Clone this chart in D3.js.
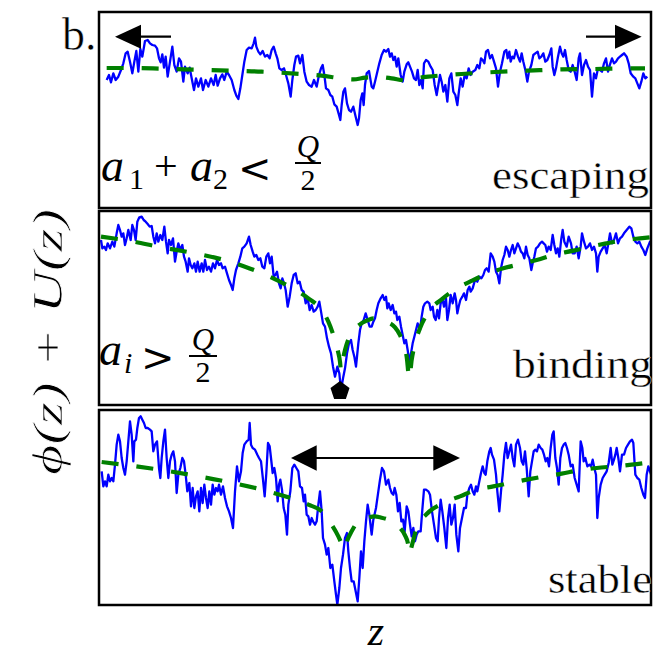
<!DOCTYPE html>
<html>
<head>
<meta charset="utf-8">
<script src="https://cdn.jsdelivr.net/npm/d3@7"></script>
<style>
body { margin: 0; background: #fff; }
</style>
</head>
<body>
<script>
// z runs along the polymer (arbitrary units), depth is the potential drawn downward

var escapingNoisy = [[35,165],[42,150],[48,172],[55,145],[62,165],[70,155],[78,135],[85,115],[92,85],[98,80],[105,110],[112,145],[118,110],[124,78],[130,140],[136,72],[142,95],[150,48],[158,45],[165,55],[172,60],[180,62],[186,70],[192,100],[197,112],[202,88],[207,128],[212,95],[218,155],[225,110],[232,65],[238,120],[245,140],[252,100],[258,110],[265,170],[270,125],[278,145],[284,128],[290,160],[297,195],[303,160],[310,185],[318,160],[324,195],[332,165],[340,185],[348,160],[356,180],[362,150],[368,182],[375,160],[382,148],[388,165],[395,140],[402,150],[410,165],[418,195],[424,212],[430,222],[436,190],[442,150],[448,110],[455,75],[462,68],[470,70],[476,55],[480,38],[484,65],[490,80],[496,88],[503,78],[510,95],[517,90],[524,100],[530,75],[536,65],[542,85],[547,100],[553,130],[560,135],[567,130],[573,150],[580,175],[587,215],[592,165],[598,120],[603,95],[610,92],[615,115],[622,90],[628,140],[635,170],[642,180],[650,185],[657,165],[665,185],[672,150],[678,130],[683,120],[688,150],[693,190],[700,195],[706,210],[712,215],[718,238],[725,245],[732,270],[736,285],[740,240],[745,200],[750,190],[756,235],[762,255],[768,260],[775,245],[782,275],[788,300],[792,280],[797,225],[802,205],[806,240],[810,180],[815,145],[822,138],
  [830,185],[835,190],[840,170],[847,140],[853,115],[860,90],[867,75],[873,80],[880,72],[885,95],[890,85],[895,105],[900,95],[905,125],[910,100],[917,150],[923,170],[928,140],[935,118],[940,112],[945,125],[951,140],[957,160],[963,165],[968,135],[973,180],[978,165],[983,190],[987,115],[993,105],[1000,110],[1007,125],[1013,135],[1019,180],[1025,210],[1030,180],[1035,150],[1040,170],[1045,200],[1051,180],[1057,230],[1063,160],[1069,145],[1075,200],[1081,210],[1087,240],[1091,205],[1097,160],[1103,185],[1109,150],[1115,160],[1121,130],[1127,150],[1133,140],[1141,135],[1147,120],[1153,130],[1158,100],[1163,105],[1168,115],[1173,80],[1179,75],[1185,100],[1191,90],[1197,110],[1203,130],[1209,185],[1215,140],[1221,115],[1228,80],[1234,75],[1238,100],[1243,80],[1247,110],[1252,95],[1257,100],[1263,75],[1269,95],[1275,110],[1280,85],[1285,110],[1291,135],[1297,170],[1302,140],[1309,120],[1315,90],[1321,85],[1328,80],[1333,100],[1339,95],[1345,85],[1351,110],[1357,105],[1363,90],[1369,70],[1373,125],[1378,150],[1383,130],[1389,95],[1395,65],[1400,85],[1405,95],[1410,75],[1415,105],[1421,135],[1427,140],[1433,120],[1439,140],[1445,165],[1451,100],[1455,85],[1461,150],[1467,120],[1473,105],[1479,125],[1485,135],[1491,215],[1497,145],[1503,160],[1509,130],[1515,135],[1521,140],[1527,115],[1533,100],[1539,140],[1545,118],[1551,100],[1557,115],[1563,110],[1569,100],[1575,95],[1581,90],[1587,85],[1595,95],[1601,115],[1607,145],[1615,155],[1621,160],[1627,175],[1633,190],[1639,170],[1645,145],[1651,160],[1657,155]];

var escapingMean = [[35,129],[100,129],[200,131],[300,134],[400,137],[500,140],[600,146],[680,152],[740,160],[775,163],[810,158],[850,156],[890,160],[930,166],[960,160],[1000,155],[1100,147],[1200,141],[1300,137],[1400,133],[1500,132],[1600,130],[1650,130]];

var bindingNoisy = [[18,90],[22,115],[28,110],[33,120],[38,100],[45,115],[52,95],[58,110],[65,70],[70,45],[75,60],[80,80],[85,70],[90,105],[95,85],[100,60],[107,90],[112,45],[117,60],[122,90],[127,35],[133,22],[140,20],[146,30],[152,35],[158,42],[164,50],[170,48],[175,80],[180,100],[185,70],[190,95],[196,75],[202,90],[208,50],[213,95],[218,130],[222,90],[228,105],[234,85],[240,155],[245,125],[250,100],[256,120],[262,105],[267,140],[272,155],[278,185],[282,145],[287,165],[292,175],[298,160],[303,185],[308,155],[314,185],[320,160],[325,185],[330,150],[336,180],[342,170],[348,185],[354,160],[360,175],[366,150],[372,165],[378,160],[383,175],[390,170],[396,190],[402,210],[408,225],[413,240],[418,205],[423,180],[430,160],[436,140],[442,115],[448,110],[455,100],[462,80],[467,105],[473,125],[478,140],[484,135],[490,150],[496,145],[502,170],[508,175],[514,140],[520,130],[525,160],[530,140],[536,200],[541,195],[546,185],[552,220],[557,235],[562,205],[567,220],[572,240],[578,290],[584,260],[590,220],[596,195],[602,190],[608,220],[614,215],[620,240],[626,245],[632,280],[638,265],[644,300],[650,285],[656,305],[662,300],[668,290],[673,275],[679,310],[684,340],[690,350],[696,385],[702,410],[708,430],[714,470],[720,500],[727,470],[733,490],[738,540],[745,500],[750,475],[756,430],[762,400],[768,390],[773,420],[778,440],[783,470],[790,400],[795,360],[800,340],[806,330],[812,310],[818,330],[824,350],
  [830,350],[835,335],[840,325],[845,300],[850,280],[857,265],[863,255],[868,270],[873,260],[877,295],[881,280],[887,300],[893,285],[898,310],[903,305],[907,330],[913,320],[918,350],[923,375],[928,400],[933,390],[938,420],[943,455],[948,430],[953,400],[958,380],[963,360],[968,340],[975,360],[980,320],[985,290],[990,280],[997,275],[1003,280],[1007,300],[1013,290],[1017,320],[1022,330],[1027,300],[1032,325],[1037,280],[1043,270],[1047,290],[1053,265],[1057,330],[1062,300],[1067,255],[1073,280],[1079,250],[1083,270],[1087,310],[1091,290],[1096,270],[1102,260],[1107,250],[1113,270],[1118,240],[1123,230],[1127,245],[1133,235],[1140,210],[1147,215],[1153,200],[1159,205],[1165,195],[1170,180],[1175,175],[1181,185],[1187,130],[1193,140],[1198,155],[1203,185],[1208,195],[1213,220],[1218,175],[1223,150],[1228,135],[1233,110],[1238,120],[1243,140],[1248,120],[1253,105],[1258,130],[1263,115],[1268,100],[1273,110],[1278,125],[1283,130],[1288,145],[1293,110],[1298,135],[1303,145],[1309,180],[1313,160],[1318,140],[1323,115],[1329,110],[1335,100],[1341,95],[1346,100],[1351,105],[1356,125],[1361,110],[1367,120],[1373,75],[1378,105],[1383,130],[1388,115],[1393,140],[1399,85],[1403,60],[1408,95],[1415,110],[1421,80],[1428,100],[1433,130],[1439,130],[1445,110],[1451,145],[1457,110],[1461,70],[1467,95],[1473,115],[1479,110],[1485,100],[1491,120],[1497,110],[1503,130],[1507,185],[1511,140],[1517,125],[1523,115],[1529,105],[1535,130],[1541,95],[1545,70],[1551,100],[1557,90],[1563,70],[1569,100],[1575,85],[1581,80],[1587,70],[1595,60],[1603,50],[1609,55],[1615,80],[1621,95],[1627,100],[1633,95],[1639,110],[1645,120],[1651,135],[1657,115],[1665,95],[1670,100]];

var bindingMean = [[18,80],[100,92],[200,112],[300,130],[380,148],[450,170],[520,198],[580,228],[640,265],[680,300],[700,335],[715,375],[728,420],[735,455],[738,482],[742,458],[750,420],[760,388],[775,362],[795,343],[815,332],[835,325],[855,326],[875,335],[900,352],[915,375],[925,400],[935,440],[943,505],[950,450],[960,400],[975,355],[1005,300],[1040,268],[1085,235],[1125,215],[1180,190],[1225,175],[1285,160],[1325,150],[1385,132],[1435,122],[1485,110],[1535,100],[1590,90],[1635,85],[1665,82]];

var stableNoisy = [[20,190],[25,235],[30,220],[35,235],[40,200],[45,220],[50,210],[55,220],[60,170],[65,110],[70,80],[75,100],[80,150],[85,180],[90,200],[95,160],[100,100],[105,40],[110,80],[115,160],[118,100],[123,95],[127,60],[132,30],[137,25],[142,35],[147,45],[152,60],[158,60],[165,65],[170,70],[175,130],[180,110],[186,100],[192,180],[196,210],[200,150],[205,100],[210,65],[215,150],[220,210],[225,160],[230,140],[235,130],[240,160],[245,255],[250,200],[256,180],[262,150],[267,160],[272,200],[277,250],[283,225],[288,295],[293,240],[298,300],[303,265],[308,250],[313,310],[318,240],[323,285],[328,230],[333,270],[338,300],[343,250],[348,290],[353,230],[358,260],[363,240],[368,250],[372,230],[378,260],[384,235],[390,270],[396,295],[402,310],[408,330],[414,360],[420,250],[426,175],[432,220],[438,190],[443,135],[448,110],[455,100],[461,95],[464,45],[468,110],[473,120],[480,125],[487,140],[492,150],[498,160],[504,215],[509,265],[514,195],[519,105],[524,115],[528,150],[533,195],[538,180],[543,210],[548,280],[552,230],[556,215],[561,245],[566,300],[571,320],[576,380],[580,290],[586,250],[592,180],[598,170],[604,180],[610,190],[615,235],[621,240],[626,280],[630,260],[635,320],[640,325],[645,350],[650,330],[654,340],[660,350],[665,340],[670,290],[675,250],[680,310],[684,390],[690,410],[695,440],[700,420],[706,480],[712,470],[718,520],[723,560],[727,590],[733,540],[738,480],[744,440],[750,390],[756,375],[760,430],[765,480],[770,520],[776,520],[782,550],[788,580],[793,510],[798,430],[803,480],[808,400],[813,340],[818,290],[823,320],
  [830,380],[835,335],[843,300],[850,250],[855,215],[861,180],[867,190],[873,230],[880,215],[885,240],[890,255],[895,260],[899,240],[904,260],[909,310],[914,285],[919,340],[924,335],[929,370],[935,295],[940,310],[945,350],[950,385],[955,360],[960,400],[965,380],[970,370],[977,370],[982,305],[987,245],[993,245],[1000,250],[1005,260],[1011,310],[1017,350],[1023,390],[1028,400],[1032,330],[1037,275],[1042,310],[1048,360],[1054,420],[1059,330],[1064,290],[1069,350],[1074,330],[1079,290],[1084,380],[1090,430],[1095,360],[1101,330],[1107,300],[1113,300],[1117,260],[1123,240],[1128,230],[1133,250],[1138,260],[1143,235],[1147,250],[1153,220],[1158,195],[1163,175],[1168,195],[1172,200],[1177,160],[1183,130],[1187,120],[1191,140],[1197,155],[1203,200],[1207,250],[1213,310],[1218,250],[1223,200],[1228,140],[1233,105],[1238,150],[1243,130],[1248,110],[1253,150],[1258,175],[1263,110],[1269,95],[1275,120],[1280,160],[1285,170],[1290,130],[1295,180],[1301,265],[1306,190],[1311,160],[1316,130],[1321,125],[1326,130],[1331,110],[1337,120],[1342,125],[1347,140],[1352,160],[1357,150],[1362,175],[1367,120],[1372,80],[1376,70],[1381,150],[1386,180],[1391,230],[1396,150],[1401,120],[1406,110],[1411,105],[1416,120],[1421,140],[1427,175],[1433,170],[1439,210],[1445,230],[1451,250],[1457,100],[1462,120],[1466,160],[1471,150],[1477,175],[1483,170],[1488,175],[1493,155],[1498,180],[1503,200],[1507,330],[1511,270],[1517,230],[1523,210],[1529,200],[1535,190],[1541,165],[1547,120],[1552,170],[1557,155],[1561,140],[1565,120],[1570,150],[1575,190],[1581,140],[1587,140],[1593,120],[1599,110],[1605,100],[1611,95],[1615,105],[1621,200],[1627,210],[1633,215],[1639,240],[1645,260],[1650,270],[1655,200],[1660,175],[1665,190],[1670,205]];

var stableMean = [[20,162],[100,172],[200,186],[300,203],[400,222],[500,245],[580,268],[640,290],[680,310],[710,350],[730,385],[742,412],[748,425],[755,402],[770,370],[790,340],[815,330],[840,325],[855,328],[890,340],[915,360],[930,382],[940,412],[943,440],[950,415],[965,360],[995,318],[1045,285],[1095,265],[1145,245],[1195,235],[1245,225],[1295,215],[1350,205],[1400,197],[1455,186],[1505,180],[1560,175],[1610,170],[1670,162]];

var regimeLabels = ["escaping", "binding", "stable"];
// bound monomer (pentagon) in the binding panel
var boundSite = [735, 543];

var width = 670, height = 654;
var svg = d3.select("body").append("svg")
    .attr("width", width)
    .attr("height", height);

var x = d3.scaleLinear().domain([12, 1668]).range([99, 651]);

var panels = [
  { noisy: escapingNoisy, mean: escapingMean, label: regimeLabels[0], domain: [-39, 549], top: 12,  bottom: 208 },
  { noisy: bindingNoisy,  mean: bindingMean,  label: regimeLabels[1], domain: [3, 585],   top: 211, bottom: 405 },
  { noisy: stableNoisy,   mean: stableMean,   label: regimeLabels[2], domain: [6, 591],   top: 410, bottom: 605 }
];

panels.forEach(function(p, i) {
  p.y = d3.scaleLinear().domain(p.domain).range([p.top, p.bottom]);

  svg.append("clipPath").attr("id", "clip" + i)
    .append("rect")
    .attr("x", x.range()[0]).attr("y", p.top)
    .attr("width", x.range()[1] - x.range()[0]).attr("height", p.bottom - p.top);

  var line = d3.line()
      .x(function(d) { return x(d[0]); })
      .y(function(d) { return p.y(d[1]); });

  var g = svg.append("g").attr("clip-path", "url(#clip" + i + ")");

  g.append("path")
    .datum(p.noisy)
    .attr("d", line)
    .attr("fill", "none")
    .attr("stroke", "#0000ff")
    .attr("stroke-width", 2.3)
    .attr("stroke-linejoin", "round");

  g.append("path")
    .datum(p.mean)
    .attr("d", d3.line().curve(d3.curveMonotoneX)
      .x(function(d) { return x(d[0]); })
      .y(function(d) { return p.y(d[1]); }))
    .attr("fill", "none")
    .attr("stroke", "#008000")
    .attr("stroke-width", 4.2)
    .attr("stroke-dasharray", "17,18");

  svg.append("rect")
    .attr("x", x.range()[0]).attr("y", p.top)
    .attr("width", x.range()[1] - x.range()[0]).attr("height", p.bottom - p.top)
    .attr("fill", "none")
    .attr("stroke", "#000")
    .attr("stroke-width", 2.5);
});

// thin the glyphs a bit, the original uses a light serif
function light(sel, w) {
  return sel.attr("stroke", "#fff").attr("stroke-width", w).attr("paint-order", "normal");
}

// regime names, bottom right of each panel
var labelPos = [[492, 189, 157], [513, 378, 139], [548, 593, 104]];
panels.forEach(function(p, i) {
  light(svg.append("text")
    .attr("x", labelPos[i][0]).attr("y", labelPos[i][1])
    .attr("textLength", labelPos[i][2])
    .attr("lengthAdjust", "spacingAndGlyphs")
    .attr("font-family", "Liberation Serif")
    .attr("font-size", 41)
    .text(p.label), 0.4);
});

// arrows
function arrowHead(p, tip, base, level, half) {
  var pts = [[x(tip), p.y(level)], [x(base), p.y(level - half)], [x(base), p.y(level + half)]];
  svg.append("path")
    .attr("d", "M" + pts.join("L") + "Z")
    .attr("fill", "#000");
}
function arrowShaft(p, from, to, level, w) {
  svg.append("line")
    .attr("x1", x(from)).attr("x2", x(to))
    .attr("y1", p.y(level)).attr("y2", p.y(level))
    .attr("stroke", "#000").attr("stroke-width", w);
}
arrowShaft(panels[0], 80, 228, 35, 2.2);
arrowHead(panels[0], 60, 138, 35, 36);
arrowShaft(panels[0], 1473, 1620, 35, 2.2);
arrowHead(panels[0], 1640, 1560, 35, 36);

arrowShaft(panels[2], 620, 1060, 150, 1.8);
arrowHead(panels[2], 588, 665, 150, 38);
arrowHead(panels[2], 1095, 1015, 150, 38);

// pentagon at the bound site
var pr = 10;
var pent = d3.range(5).map(function(k) {
  var a = -Math.PI / 2 + k * 2 * Math.PI / 5;
  return [x(boundSite[0]) + pr * Math.cos(a), panels[1].y(boundSite[1]) + pr * Math.sin(a)];
});
svg.append("path").attr("d", "M" + pent.join("L") + "Z").attr("fill", "#000");

// math annotations
function tx(str, xx, yy, size, opts) {
  opts = opts || {};
  return svg.append("text")
    .attr("x", xx).attr("y", yy)
    .attr("font-family", opts.family || "Liberation Serif")
    .attr("font-style", opts.italic ? "italic" : "normal")
    .attr("font-size", size)
    .attr("text-anchor", opts.anchor || "start")
    .text(str);
}

light(tx("b.", 62, 50, 46), 0.5);

tx("a", 101, 181, 46, { italic: true });
tx("1", 129, 189, 30);
tx("+", 154, 180, 42);
tx("a", 190, 181, 46, { italic: true });
tx("2", 213, 189, 30);
tx("<", 238, 182, 40, { family: "DejaVu Serif" });
tx("Q", 308, 157, 31, { italic: true, anchor: "middle" });
svg.append("line").attr("x1", 295).attr("x2", 321).attr("y1", 163).attr("y2", 163)
  .attr("stroke", "#000").attr("stroke-width", 2);
tx("2", 308, 190, 30, { anchor: "middle" });

tx("a", 99, 365, 46, { italic: true });
tx("i", 124, 373, 30, { italic: true });
tx(">", 141, 371, 40, { family: "DejaVu Serif" });
tx("Q", 203, 350, 31, { italic: true, anchor: "middle" });
svg.append("line").attr("x1", 189).attr("x2", 217).attr("y1", 356).attr("y2", 356)
  .attr("stroke", "#000").attr("stroke-width", 2);
tx("2", 203, 382, 30, { anchor: "middle" });

// axis titles
var ylab = svg.append("text")
  .attr("transform", "translate(62,342) rotate(-90)")
  .attr("text-anchor", "middle")
  .attr("font-family", "Liberation Serif")
  .attr("font-style", "italic")
  .attr("font-size", 42)
  .attr("textLength", 266)
  .attr("lengthAdjust", "spacingAndGlyphs")
  .text("\u03D5(z) + U(z)");
light(ylab, 0.7);

tx("z", 376, 645, 42, { italic: true, anchor: "middle" });
</script>
</body>
</html>
